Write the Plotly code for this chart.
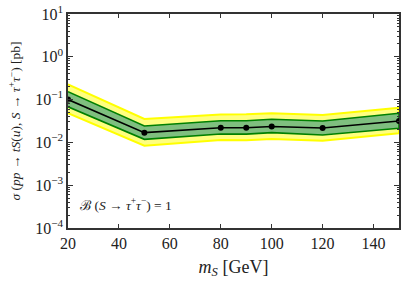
import plotly.graph_objects as go

mass = [20, 50, 80, 90, 100, 120, 150]
expected = [0.100, 0.0169, 0.0220, 0.0220, 0.0236, 0.0217, 0.0316]
green_up = [0.153, 0.0241, 0.0320, 0.0320, 0.0347, 0.0316, 0.0478]
green_dn = [0.068, 0.0118, 0.0157, 0.0156, 0.0169, 0.0149, 0.0214]
yellow_up = [0.227, 0.0352, 0.0450, 0.0452, 0.0478, 0.0437, 0.0646]
yellow_dn = [0.048, 0.0084, 0.0114, 0.0113, 0.0120, 0.0110, 0.0163]

y_tick_vals = [1e-4, 1e-3, 1e-2, 1e-1, 1e0, 1e1]
y_tick_text = ["10<sup>−4</sup>", "10<sup>−3</sup>", "10<sup>−2</sup>",
               "10<sup>−1</sup>", "10<sup>0</sup>", "10<sup>1</sup>"]
x_tick_vals = [20, 40, 60, 80, 100, 120, 140]

FONT = "Liberation Serif, DejaVu Serif, serif"

fig = go.Figure()
fig.add_trace(go.Scatter(
    x=mass + mass[::-1], y=yellow_up + yellow_dn[::-1],
    fill="toself", fillcolor="#ffff80", mode="lines",
    line=dict(color="#ffff00", width=2), hoverinfo="skip", showlegend=False))
fig.add_trace(go.Scatter(
    x=mass + mass[::-1], y=green_up + green_dn[::-1],
    fill="toself", fillcolor="#7fbf7f", mode="lines",
    line=dict(color="#008000", width=1.6), hoverinfo="skip", showlegend=False))
fig.add_trace(go.Scatter(
    x=mass, y=expected, mode="lines+markers",
    line=dict(color="black", width=1.6),
    marker=dict(color="black", size=6), showlegend=False, cliponaxis=True))

minor_vals = [m * 10.0 ** e for e in range(-4, 1) for m in range(2, 10)]

fig.update_xaxes(
    range=[20, 150], tickvals=x_tick_vals, ticks="inside", ticklen=4,
    tickwidth=1, tickcolor="#333", showline=True, linecolor="#333",
    linewidth=1.5, mirror="ticks", showgrid=False, zeroline=False,
    automargin=False,
    tickfont=dict(family=FONT, size=16, color="#222"),
    title=dict(text="<i>m<sub>S</sub></i> [GeV]",
               font=dict(family=FONT, size=18, color="#222"), standoff=9))
fig.update_yaxes(
    type="log", range=[-4, 1], tickvals=y_tick_vals, ticktext=y_tick_text,
    ticks="inside", ticklen=5, tickwidth=1, tickcolor="#333",
    showline=True, linecolor="#333", linewidth=1.5, mirror="ticks",
    showgrid=False, zeroline=False, automargin=False,
    minor=dict(tickvals=minor_vals, ticks="inside", ticklen=2.5,
               tickcolor="#333", showgrid=False),
    tickfont=dict(family=FONT, size=16, color="#222"),
    title=dict(text="<i>σ</i> (<i>pp</i> → <i>tS</i>(<i>u</i>), <i>S</i> → <i>τ</i><sup>+</sup><i>τ</i><sup>−</sup>) [pb]",
               font=dict(family=FONT, size=13.5, color="#222"), standoff=11))

fig.add_annotation(
    x=0.03, y=0.11, xref="paper", yref="paper", xanchor="left", yanchor="middle",
    text="ℬ (<i>S</i> → <i>τ</i><sup>+</sup><i>τ</i><sup>−</sup>) = 1",
    showarrow=False, font=dict(family=FONT, size=13.5, color="#222"))

fig.update_layout(
    width=407, height=286,
    margin=dict(l=68, r=8, t=14, b=58),
    plot_bgcolor="white", paper_bgcolor="white")

fig.write_html("out.html", config={"displayModeBar": False},
               post_script="document.body.style.margin='0';document.body.style.overflow='hidden';")
